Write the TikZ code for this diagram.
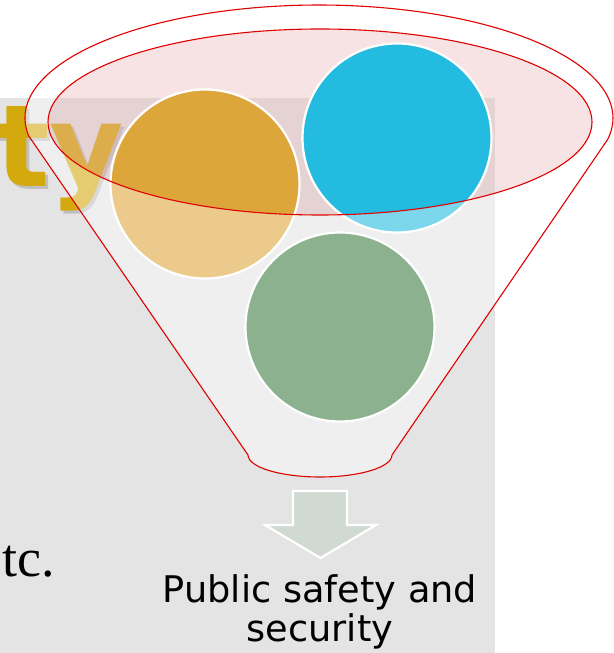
\documentclass[tikz,border=0pt]{standalone}
\usepackage{fontspec}
\newfontfamily\labelfont{DejaVu Sans}
\newfontfamily\bodyfont{Liberation Serif}
\usetikzlibrary{positioning}
\definecolor{cpanel}{HTML}{E4E4E4}
\definecolor{cgold}{HTML}{D4A90E}
\definecolor{cpink}{RGB}{233,180,180}
\definecolor{corange}{HTML}{DDA63A}
\definecolor{cblue}{HTML}{23BBE0}
\definecolor{cgreen}{HTML}{3C7C41}
\definecolor{cred}{HTML}{E00000}
\definecolor{carrow}{HTML}{D0DAD2}
\tikzset{
  ball/.style={circle, draw=white, line width=2.2pt, fill=#1, minimum size=189pt, inner sep=0pt},
  ball/.default=corange,
  rim/.style={draw=cred, line width=1.1pt, fill=white, fill opacity=0.41, even odd rule},
  bigword/.style={font=\labelfont\bfseries\fontsize{114}{114}\selectfont, anchor=base west, inner sep=0pt},
  caption/.style={font=\labelfont\fontsize{36.7}{39}\selectfont, align=center, inner sep=0pt},
}

\begin{document}
\begin{tikzpicture}[x=1pt, y=1pt]
  \useasboundingbox (0,0) rectangle (613,653);
  \fill[cpanel] (0,0) rectangle (495,555);
  % slide text behind the funnel
  \node[bigword, text=black!25] (tyshadow) at (-2,463) {ty};
  \node[bigword, text=cgold] (ty) at (-5,466) {ty};
  \node[font=\bodyfont\fontsize{54}{54}\selectfont, anchor=base east, inner sep=0pt] (etc) at (55,76) {tc.};
  % funnel mouth
  \fill[cpink, fill opacity=0.37] (320,531) ellipse [x radius=272pt, y radius=93pt];
  \node[ball=corange] (orangeball) at (205,469) {};
  \node[ball=cblue] (blueball) at (397,515) {};
  \node[ball=cgreen] (greenball) at (340,326) {};
  % funnel body
  \path[rim] (28.6,517.3) arc[start angle=189, end angle=-11, x radius=294pt, y radius=113pt]
    -- (392,198) arc[start angle=0, end angle=-180, x radius=72pt, y radius=22pt] -- cycle
    (320,531) ellipse [x radius=272pt, y radius=93pt];
  % output arrow
  \filldraw[fill=carrow, draw=white, line width=2.2pt]
    (293,162) -- (347,162) -- (347,128) -- (376,128) -- (320.5,95) -- (265,128) -- (293,128) -- cycle;
  \node[caption, anchor=base] (result) at (320,12) {Public safety and\\security};
\end{tikzpicture}
\end{document}
